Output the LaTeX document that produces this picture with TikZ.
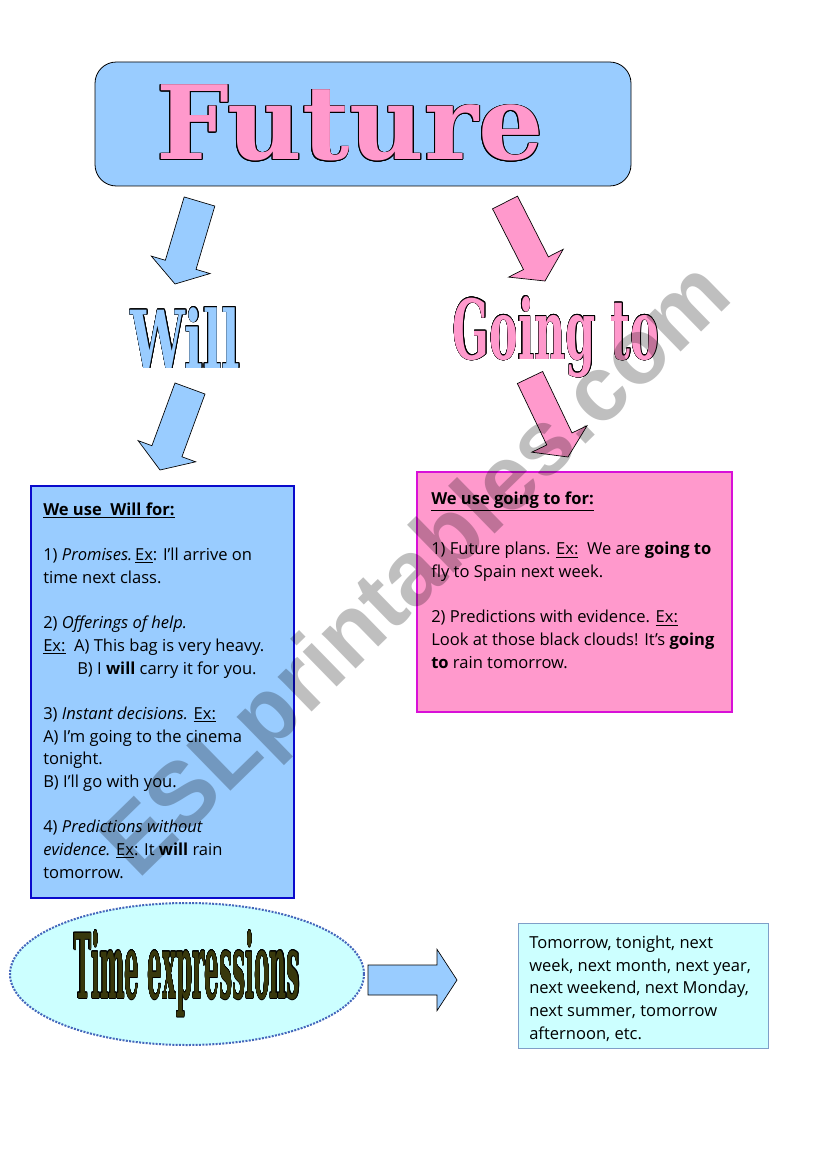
\documentclass[tikz,border=0pt]{standalone}
\usepackage{fontspec}
\setmainfont{Open Sans}
\newfontfamily\titlefont{DejaVu Serif}
\newfontfamily\markfont{Liberation Sans}
\usepackage[copies]{contour}
\usetikzlibrary{calc,fit,shapes.geometric}
\definecolor{skyfill}{HTML}{99CCFF}
\definecolor{pinkfill}{HTML}{FF99CC}
\definecolor{cyanfill}{HTML}{CCFFFF}
\definecolor{willedge}{HTML}{0A0ACC}
\definecolor{goingedge}{HTML}{D810D8}
\definecolor{dotedge}{HTML}{4466BB}
\definecolor{timeedge}{HTML}{7F9FC8}
\definecolor{olive}{HTML}{38380C}
\contourlength{0.6pt}
\tikzset{
  bluearrow/.style={draw=black, line width=0.5pt, fill=skyfill},
  pinkarrow/.style={draw=black, line width=0.5pt, fill=pinkfill},
  wordart/.style={inner sep=0pt, anchor=base},
  bodytext/.style={font=\fontsize{12.4}{17}\selectfont, align=left,
    anchor=base west, inner sep=0pt},
}
% block arrow between two named coordinates
\newcommand{\blockarrow}[4][12pt]{%
  \coordinate (ba-h) at ($(#4)!15pt!(#3)$);
  \draw[#2] ($(#3)!#1!90:(#4)$) -- ($(ba-h)!#1!90:(#4)$)
    -- ($(ba-h)!23pt!90:(#4)$) -- (#4)
    -- ($(ba-h)!23pt!-90:(#4)$) -- ($(ba-h)!#1!-90:(#4)$)
    -- ($(#3)!#1!-90:(#4)$) -- cycle;}

\begin{document}
\begin{tikzpicture}[x=0.75pt, y=-0.75pt]
\path[use as bounding box, fill=white] (0,0) rectangle (821,1169);

% title
\node[draw=black, line width=0.6pt, fill=skyfill, rounded corners=16pt,
  inner sep=0pt, fit={(95,62) (631,186)}] (futurebox) {};
\node[wordart] (future) at (350,160)
  {\fontsize{77}{77}\titlefont\bfseries\textcolor{pinkfill}{\contour{black}{Future}}};

% the two branches
\node[wordart] (will) at (185.5,368)
  {\scalebox{0.61}[1]{\fontsize{60}{60}\titlefont\bfseries\textcolor{skyfill}{\contour{black}{Will}}}};
\node[wordart] (going) at (556,359)
  {\scalebox{0.52}[1]{\fontsize{62}{62}\titlefont\bfseries\textcolor{pinkfill}{\contour{black}{Going to}}}};

\coordinate (a1s) at (199.5,201.5);
\coordinate (a1e) at (175,284);
\coordinate (a2s) at (190,388.5);
\coordinate (a2e) at (160,470);
\coordinate (a3s) at (505,202.5);
\coordinate (a3e) at (545,281);
\coordinate (a4s) at (530,377.5);
\coordinate (a4e) at (568,457);
\blockarrow{bluearrow}{a1s}{a1e}
\blockarrow{bluearrow}{a2s}{a2e}
\blockarrow[10.5pt]{pinkarrow}{a3s}{a3e}
\blockarrow[10.5pt]{pinkarrow}{a4s}{a4e}

% boxes
\node[draw=willedge, line width=2.2pt, fill=skyfill, inner sep=0pt,
  fit={(31,486) (294,898)}] (willbox) {};
\node[draw=goingedge, line width=2.2pt, fill=pinkfill, inner sep=0pt,
  fit={(417,472) (732,712)}] (goingbox) {};

% multi-line nodes sit on their last baseline
\node[bodytext] (willtxt) at (43,878) {%
  \underline{\textbf{We use\ \ Will for:}}\\[17pt]
  1) \textit{Promises.}\,\underline{Ex}: I'll arrive on\\
  time next class.\\[17pt]
  2) \textit{Offerings of help.}\\
  \underline{Ex:}\ \ A) This bag is very heavy.\\
  \hspace{25.5pt}B) I \textbf{will} carry it for you.\\[17pt]
  3) \textit{Instant decisions.} \underline{Ex:}\\
  A) I’m going to the cinema\\
  tonight.\\
  B) I'll go with you.\\[17pt]
  4) \textit{Predictions without}\\
  \textit{evidence.} \underline{Ex}: It \textbf{will} rain\\
  tomorrow.};

\node[bodytext] (goingtxt) at (431,668) {%
  \underline{\textbf{We use going to for:}}\\[21pt]
  1) Future plans. \underline{Ex:}\ \ We are \textbf{going to}\\
  fly to Spain next week.\\[17pt]
  2) Predictions with evidence. \underline{Ex:}\\
  Look at those black clouds! It’s \textbf{going}\\
  \textbf{to} rain tomorrow.};

% time expressions
\node[ellipse, draw=dotedge, line width=1.5pt, densely dotted, fill=cyanfill,
  minimum width=265.5pt, minimum height=106.5pt, inner sep=0pt] (timeexp) at (187,974)
  {\scalebox{0.26}[1]{\fontsize{67}{67}\titlefont\bfseries\textcolor{olive}{\contour{black}{Time expressions}}}};

\coordinate (a5s) at (368,980);
\coordinate (a5e) at (457,980);
\blockarrow[11.25pt]{bluearrow}{a5s}{a5e}

\node[draw=timeedge, line width=0.6pt, fill=cyanfill, inner sep=0pt,
  fit={(518,923) (768,1048)}] (timebox) {};
\node[bodytext] (timetxt) at (529,1039) {%
  Tomorrow, tonight, next\\
  week, next month, next year,\\
  next weekend, next Monday,\\
  next summer, tomorrow\\
  afternoon, etc.};

% watermark
\node[rotate=44.3, anchor=base, opacity=0.25, inner sep=0pt,
  font=\markfont\bfseries\fontsize{69}{69}\selectfont] (mark) at (437,590) {ESLprintables.com};
\end{tikzpicture}
\end{document}
